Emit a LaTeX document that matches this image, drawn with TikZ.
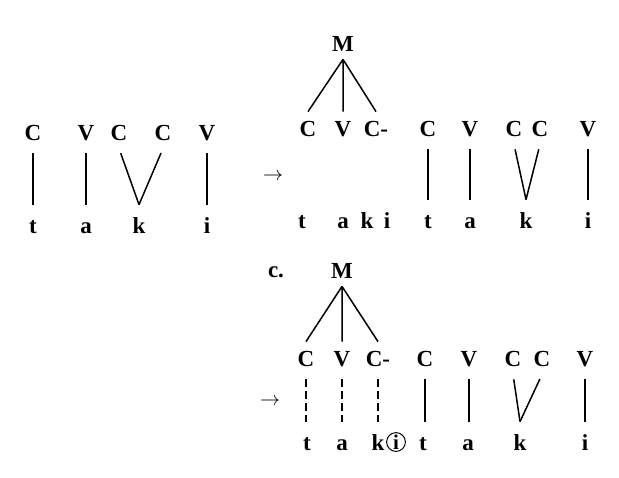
\documentclass[tikz,border=0pt]{standalone}
\usepackage{fontspec}
\setmainfont{Liberation Serif}
\usetikzlibrary{arrows.meta}

\begin{document}
\begin{tikzpicture}[x=0.5pt, y=-0.5pt,
  skel/.style={font=\fontsize{11.5}{13}\selectfont\bfseries, inner xsep=0pt, inner ysep=4pt, text height=8pt, text depth=0pt},
  seg/.style={font=\fontsize{11.5}{13}\selectfont\bfseries, inner xsep=0pt, inner ysep=6pt, text height=8pt, text depth=0pt},
  tie/.style={line width=0.75pt},
  down/.style={tie, shorten <=2.5pt},
  dtie/.style={down, dash pattern=on 4pt off 2pt}]
\useasboundingbox (0,0) rectangle (619,477);

% input form
\foreach \x/\l [count=\i] in {33/C,86/V,119/C,163/C,207/V}
  \node[skel] (a\i) at (\x,132) {\l};
\foreach \x/\l [count=\i] in {33/t,86/a,139/k,207/i}
  \node[seg] (s\i) at (\x,225) {\l};
\draw[down] (a1.south) -- (a1.south |- s1.north);
\draw[down] (a2.south) -- (a2.south |- s2.north);
\draw[down] (a3.south) -- (s3.north);
\draw[down] (a4.south) -- (s3.north);
\draw[down] (a5.south) -- (a5.south |- s4.north);

\node (arrA) at (273,177) {$\rightarrow$};

% reduplicated form
\node[skel] (mA) at (343,43) {M};
\foreach \x/\l [count=\i] in {308/C,343/V,376/C-,428/C,470/V,514/C,540/C,588/V}
  \node[skel] (b\i) at (\x,128) {\l};
\foreach \x/\l [count=\i] in {302/t,343/a,367/k,387/i,428/t,470/a,526/k,588/i}
  \node[seg] (t\i) at (\x,220) {\l};
\draw[tie] (mA.south) -- (b1.north) (mA.south) -- (b2.north) (mA.south) -- (b3.north);
\draw[down] (b4.south) -- (b4.south |- t5.north);
\draw[down] (b5.south) -- (b5.south |- t6.north);
\draw[down] (b6.south) -- (t7.north);
\draw[down] (b7.south) -- (t7.north);
\draw[down] (b8.south) -- (b8.south |- t8.north);

% c.
\node[font=\fontsize{11.5}{13}\selectfont\bfseries] (lab) at (276,272) {c.};
\node[skel] (mB) at (342,270) {M};
\foreach \x/\l [count=\i] in {306/C,342/V,378/C-,425/C,469/V,513/C,542/C,585/V}
  \node[skel] (c\i) at (\x,358) {\l};
\foreach \x/\l [count=\i] in {307/t,342/a,378/k}
  \node[seg] (u\i) at (\x,442) {\l};
\node[circle, draw, font=\fontsize{10.5}{12}\selectfont\bfseries, inner sep=0.6pt, line width=0.5pt] (ucirc) at (396,442) {i};
\foreach \x/\l [count=\i from 4] in {423/t,468/a,520/k,585/i}
  \node[seg] (u\i) at (\x,442) {\l};
\draw[tie] (mB.south) -- (c1.north) (mB.south) -- (c2.north) (mB.south) -- (c3.north);
\draw[dtie] (c1.south) -- (c1.south |- u1.north);
\draw[dtie] (c2.south) -- (c2.south |- u2.north);
\draw[dtie] (c3.south) -- (c3.south |- u3.north);
\draw[down] (c4.south) -- (c4.south |- u4.north);
\draw[down] (c5.south) -- (c5.south |- u5.north);
\draw[down] (c6.south) -- (u6.north);
\draw[down] (c7.south) -- (u6.north);
\draw[down] (c8.south) -- (c8.south |- u7.north);

\node (arrB) at (270,402) {$\rightarrow$};
\end{tikzpicture}
\end{document}
